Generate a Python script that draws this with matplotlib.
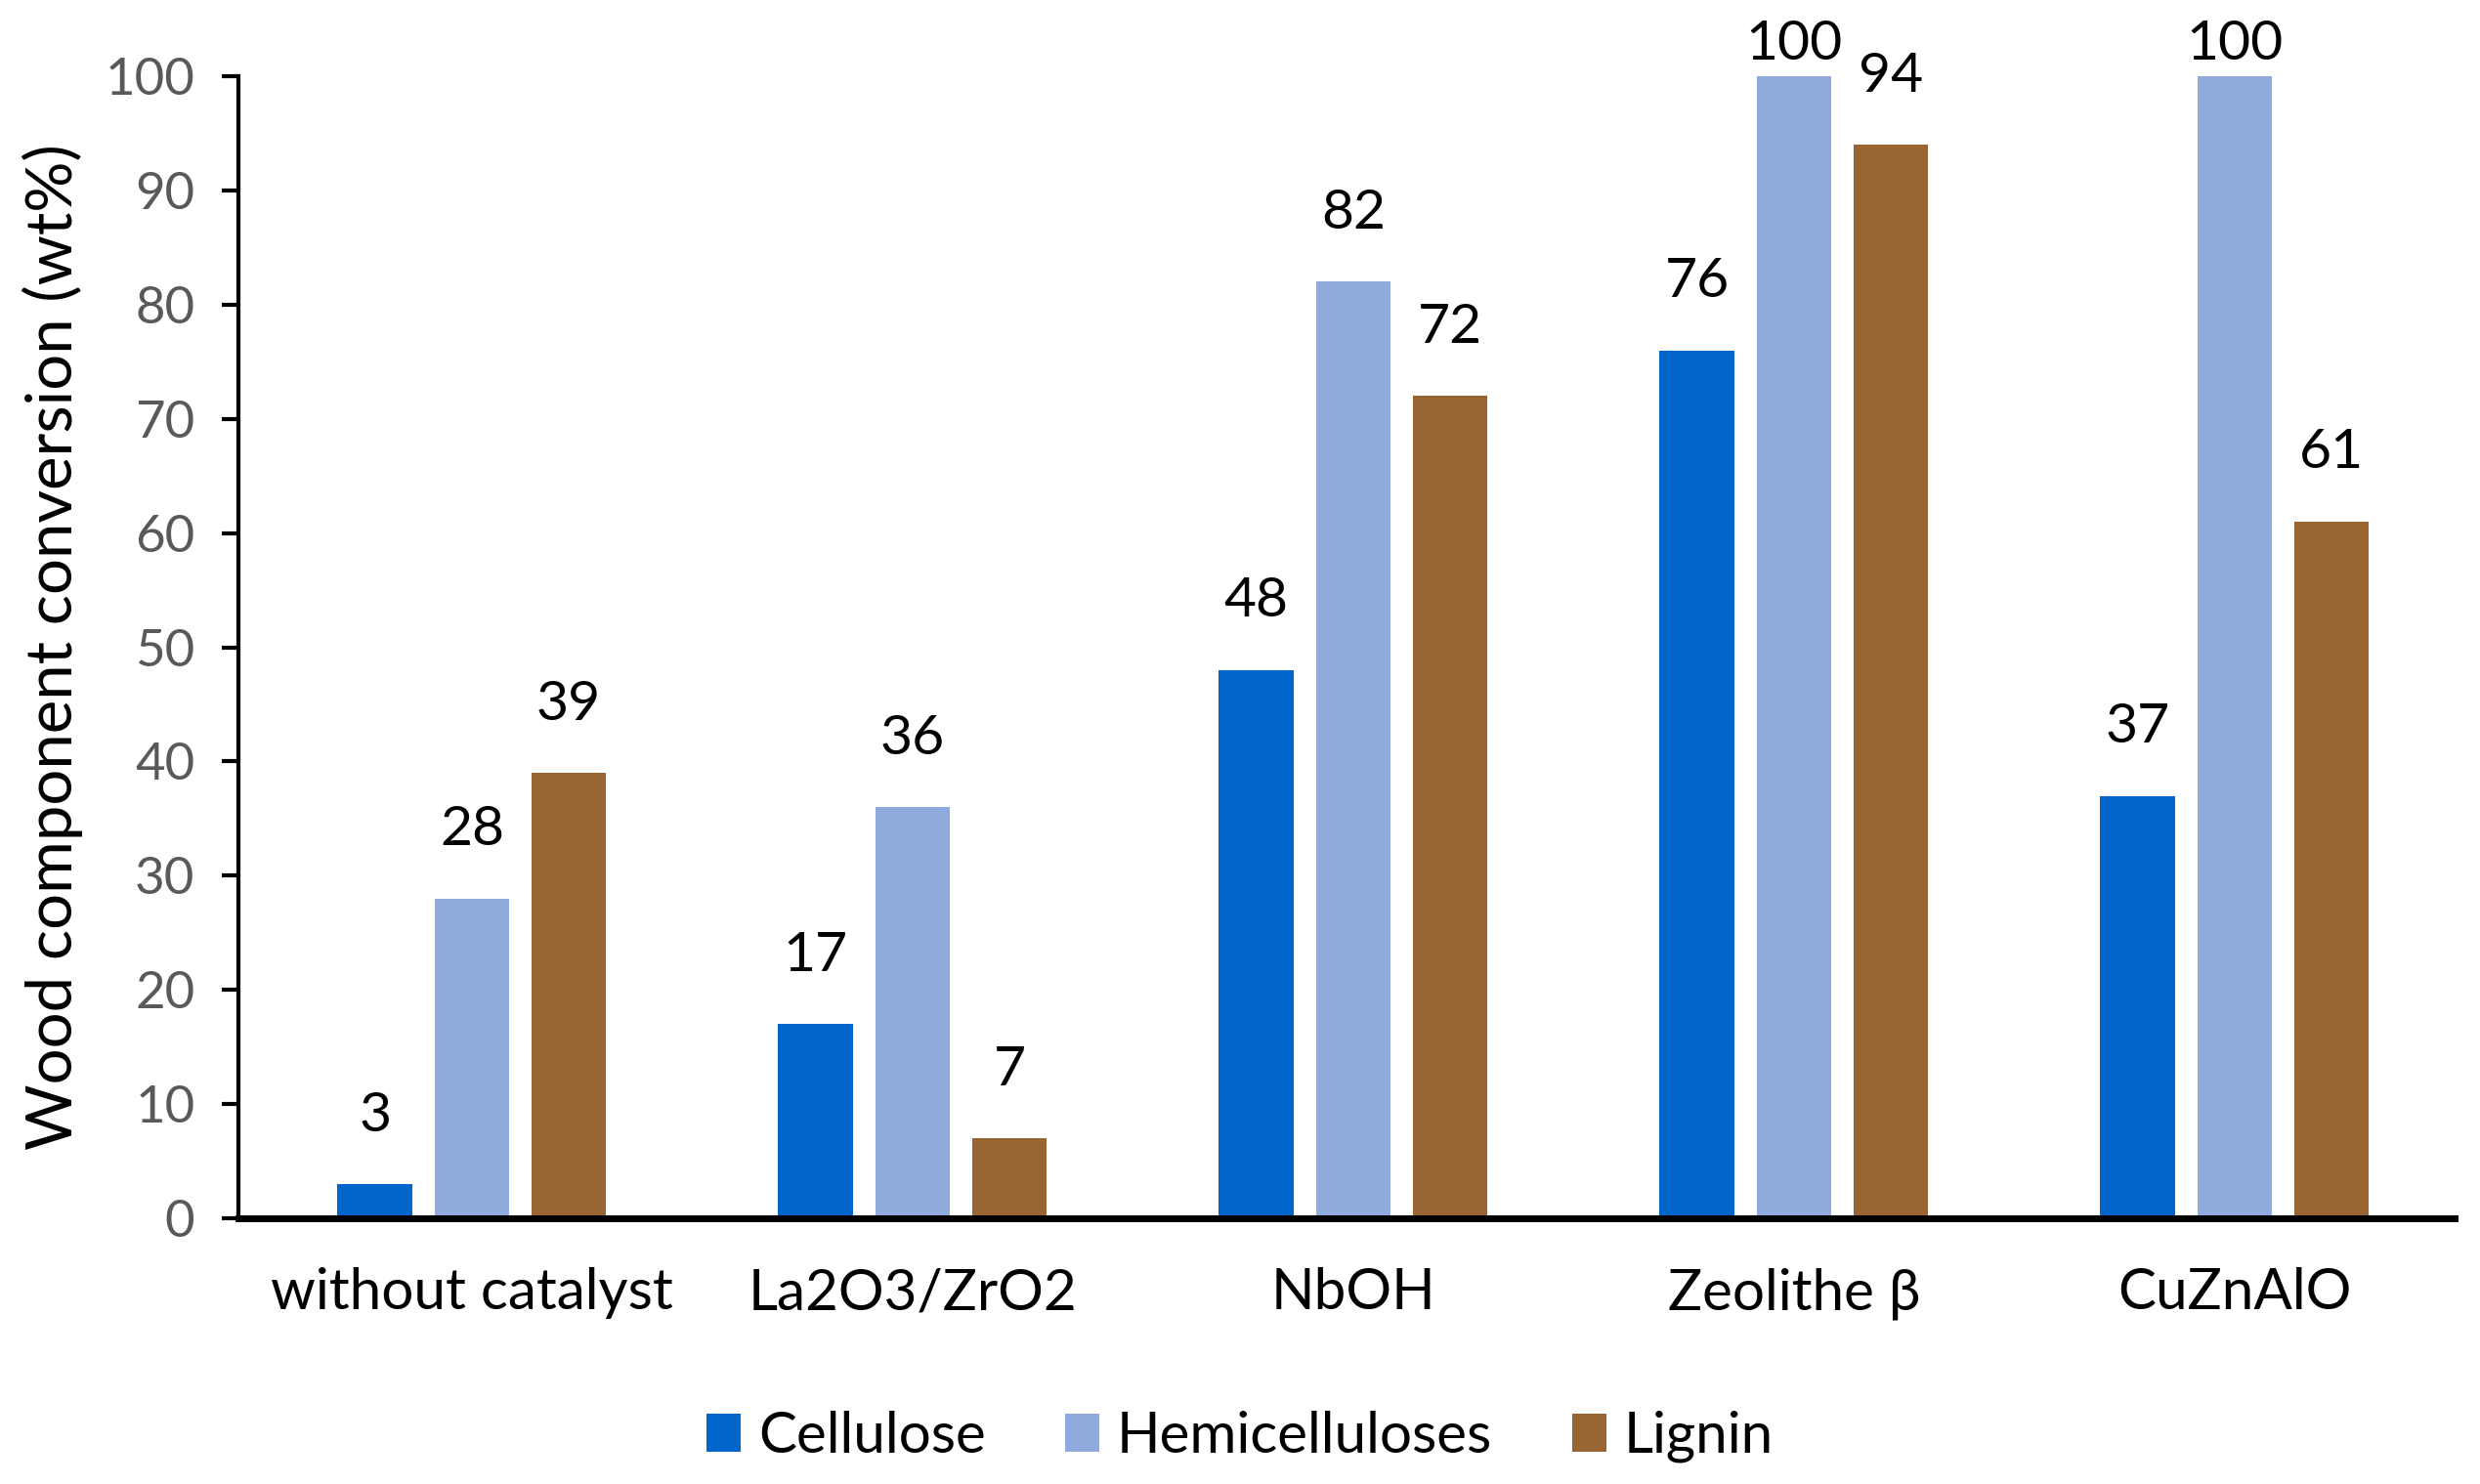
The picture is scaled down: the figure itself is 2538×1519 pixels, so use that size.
import numpy as np
import matplotlib
matplotlib.use('Agg')
import matplotlib.pyplot as plt

catalysts = ['without catalyst', 'La2O3/ZrO2', 'NbOH', 'Zeolithe β', 'CuZnAlO']
cellulose = [3, 17, 48, 76, 37]
hemicelluloses = [28, 36, 82, 100, 100]
lignin = [39, 7, 72, 94, 61]

series = [('Cellulose', cellulose, '#0066cc'),
          ('Hemicelluloses', hemicelluloses, '#8faadc'),
          ('Lignin', lignin, '#996633')]

plt.rcParams['font.family'] = ['Lato', 'DejaVu Sans']

fig = plt.figure(figsize=(12.69, 7.595), dpi=200)
ax = fig.add_axes([0.0961, 0.179, 0.8938, 0.7697])

x = np.arange(len(catalysts))
w = 0.17
step = 0.22
for i, (name, vals, col) in enumerate(series):
    pos = x + (i - 1) * step
    ax.bar(pos, vals, width=w, color=col, label=name, zorder=2)
    for p, v in zip(pos, vals):
        ax.text(p, min(v + 3.8, 100.6), str(v), ha='center', va='bottom',
                fontsize=20.5, color='black')

ax.set_xlim(-0.53, len(catalysts) - 0.5)
ax.set_ylim(0, 100)
ax.set_yticks(range(0, 101, 10))
ax.tick_params(axis='y', labelsize=19, labelcolor='#595959', direction='out',
               length=6, width=1.5, pad=10)
ax.set_xticks(x)
ax.set_xticklabels(catalysts)
ax.tick_params(axis='x', labelsize=21, length=0, pad=18)

ax.spines['top'].set_visible(False)
ax.spines['right'].set_visible(False)
ax.spines['left'].set_linewidth(1.5)
ax.spines['bottom'].set_linewidth(2.5)

ax.set_ylabel('Wood component conversion (wt%)', fontsize=23.5, labelpad=8)

fig.legend(loc='center', bbox_to_anchor=(0.5, 0.032), ncol=3, frameon=False,
           fontsize=21, handlelength=0.6, handleheight=0.65, columnspacing=1.4,
           handletextpad=0.3)

fig.savefig('out.png', dpi=200)
